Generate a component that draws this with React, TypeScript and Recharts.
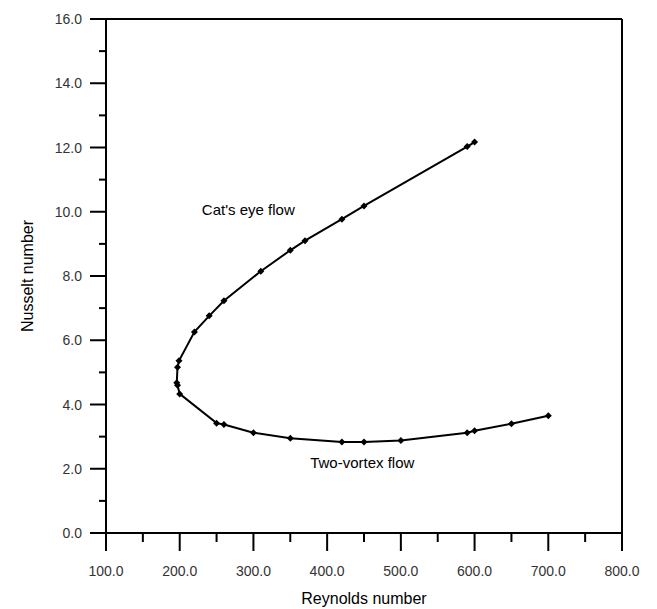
import { LineChart, Line, XAxis, YAxis, ReferenceLine, ReferenceDot } from 'recharts';

// Reynolds / Nusselt pairs, in drawing order: cat's eye branch down to the fold, then two-vortex branch
const reynolds = [600, 590, 450, 420, 370, 350, 310, 260, 240, 220, 199, 197, 196, 197, 200, 250, 260, 300, 350, 420, 450, 500, 590, 600, 650, 700];
const nusselt = [12.17, 12.03, 10.18, 9.77, 9.1, 8.8, 8.15, 7.23, 6.76, 6.26, 5.36, 5.16, 4.68, 4.6, 4.33, 3.42, 3.38, 3.12, 2.95, 2.83, 2.83, 2.88, 3.12, 3.18, 3.4, 3.65];

const xTicks = [100, 150, 200, 250, 300, 350, 400, 450, 500, 550, 600, 650, 700, 750, 800];
const yTicks = [0, 1, 2, 3, 4, 5, 6, 7, 8, 9, 10, 11, 12, 13, 14, 15, 16];

const FONT = '"Liberation Sans", Arial, Helvetica, sans-serif';

const data = reynolds.map((re, i) => ({ re, nu: nusselt[i] }));

function XTick({ x, y, payload }: any) {
  const major = payload.value % 100 === 0;
  return (
    <g>
      <line x1={x} y1={y} x2={x} y2={y + (major ? 18 : 9)} stroke="#000" strokeWidth={2} />
      {major && (
        <text x={x} y={y + 38} textAnchor="middle" dominantBaseline="central" fontFamily={FONT} fontSize={14} fill="#333">
          {payload.value.toFixed(1)}
        </text>
      )}
    </g>
  );
}

function YTick({ x, y, payload }: any) {
  const major = payload.value % 2 === 0;
  return (
    <g>
      <line x1={x - (major ? 16 : 7)} y1={y} x2={x} y2={y} stroke="#000" strokeWidth={2} />
      {major && (
        <text x={x - 24} y={y} textAnchor="end" dominantBaseline="central" fontFamily={FONT} fontSize={14} fill="#333">
          {payload.value.toFixed(1)}
        </text>
      )}
    </g>
  );
}

function Diamond(props: any) {
  const { cx, cy, index } = props;
  const s = 3.5;
  return <path key={index} d={`M${cx},${cy - s}L${cx + s},${cy}L${cx},${cy + s}L${cx - s},${cy}Z`} fill="#000" />;
}

const note = (text: string) => (p: any) => (
  <text x={p.viewBox.x} y={p.viewBox.y} dominantBaseline="central" fontFamily={FONT} fontSize={15} fill="#000">
    {text}
  </text>
);

export default function App() {
  return (
    <div style={{ position: 'absolute', left: 0, top: 0, width: 657, height: 609, background: '#fff' }}>
      <LineChart width={657} height={609} data={data} margin={{ top: 19, right: 35, bottom: 0, left: 0 }}>
        <XAxis
          dataKey="re"
          type="number"
          domain={[100, 800]}
          ticks={xTicks}
          interval={0}
          height={76}
          tickSize={0}
          tickMargin={0}
          tickLine={false}
          axisLine={{ stroke: '#000', strokeWidth: 2 }}
          tick={<XTick />}
          label={{
            content: () => (
              <text x={364} y={598} textAnchor="middle" dominantBaseline="central" fontFamily={FONT} fontSize={16} fill="#000">
                Reynolds number
              </text>
            ),
          }}
        />
        <YAxis
          type="number"
          domain={[0, 16]}
          ticks={yTicks}
          interval={0}
          width={106}
          tickSize={0}
          tickMargin={0}
          tickLine={false}
          axisLine={{ stroke: '#000', strokeWidth: 2 }}
          tick={<YTick />}
          label={{
            content: () => (
              <text x={27} y={276} transform="rotate(-90 27 276)" textAnchor="middle" dominantBaseline="central" fontFamily={FONT} fontSize={16} fill="#000">
                Nusselt number
              </text>
            ),
          }}
        />
        <ReferenceLine y={16} stroke="#000" strokeWidth={2} />
        <ReferenceLine x={800} stroke="#000" strokeWidth={2} />
        <ReferenceDot x={230} y={10.08} r={0} fill="none" stroke="none" label={{ content: note("Cat's eye flow") }} />
        <ReferenceDot x={377} y={2.21} r={0} fill="none" stroke="none" label={{ content: note('Two-vortex flow') }} />
        <Line
          dataKey="nu"
          type="linear"
          stroke="#000"
          strokeWidth={2}
          dot={Diamond}
          activeDot={false}
          isAnimationActive={false}
        />
      </LineChart>
    </div>
  );
}
